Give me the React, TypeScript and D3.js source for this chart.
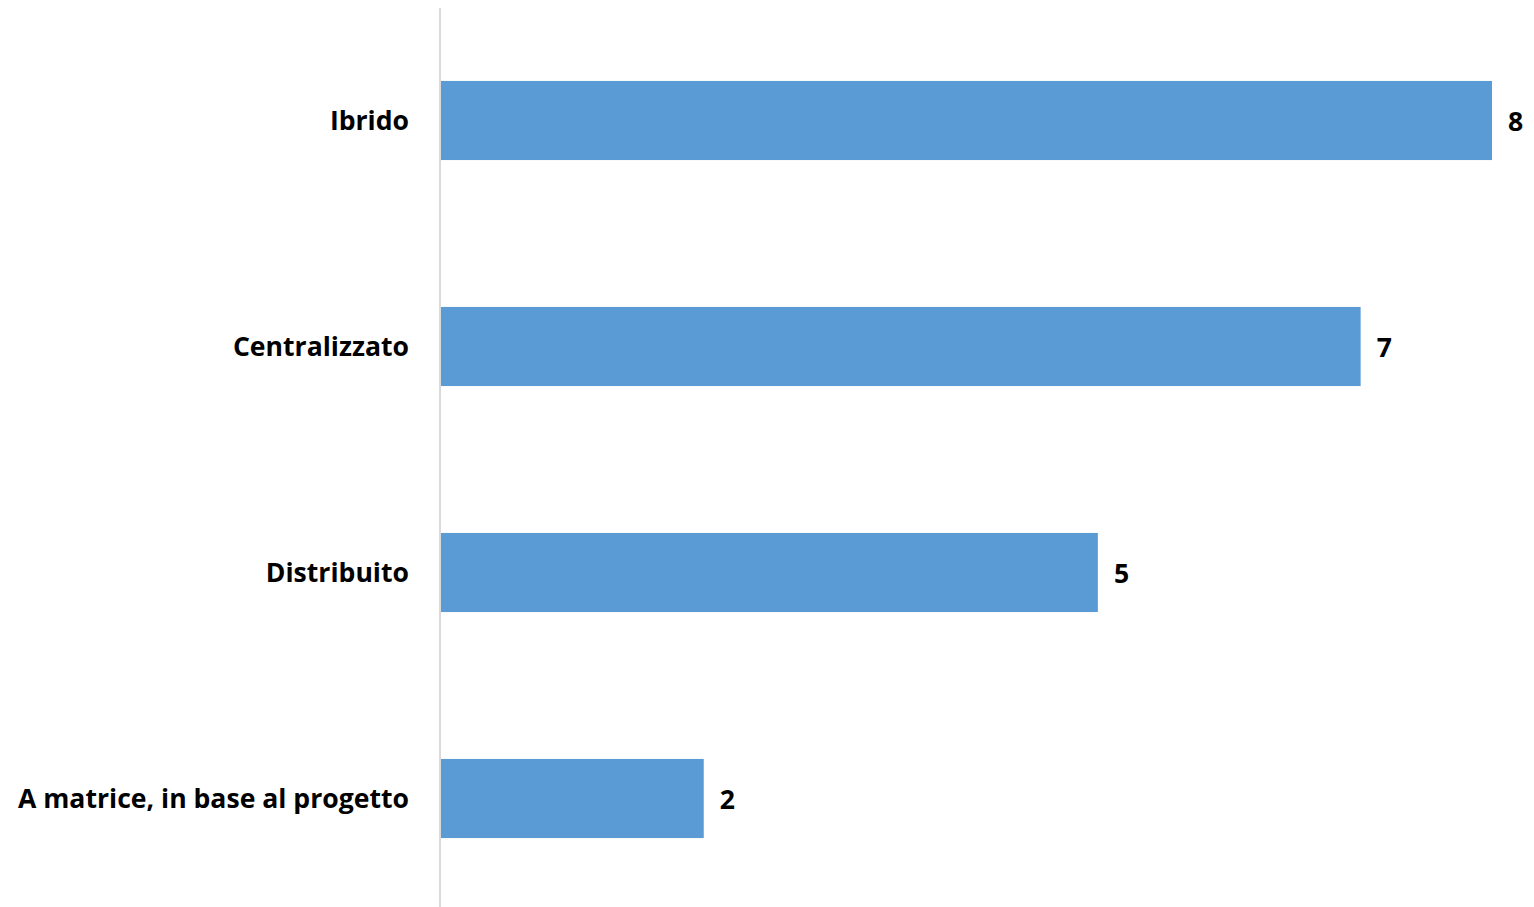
import React from "react";
import * as d3 from "d3";

const categories = ["Ibrido", "Centralizzato", "Distribuito", "A matrice, in base al progetto"];
const values = [8, 7, 5, 2];

const W = 1534;
const H = 907;

export default function App() {
  const x = d3.scaleLinear().domain([0, 8]).range([441, 1492]);
  const y = d3
    .scaleBand<string>()
    .domain(categories)
    .range([7.5, 911.5])
    .paddingInner(0.65)
    .paddingOuter(0.325);
  const font = "'Open Sans', 'DejaVu Sans', sans-serif";
  return (
    <svg
      width={W}
      height={H}
      style={{ position: "absolute", left: 0, top: 0, background: "#fff" }}
    >
      <line x1={440} x2={440} y1={8} y2={H} stroke="#d9d9d9" strokeWidth={2} />
      {categories.map((c, i) => {
        const yy = y(c)!;
        const bw = y.bandwidth();
        return (
          <g key={c}>
            <rect x={x(0)} y={yy} width={x(values[i]) - x(0)} height={bw} fill="#5b9bd5" />
            <text
              x={409}
              y={yy + bw / 2 - 1}
              textAnchor="end"
              dominantBaseline="central"
              fontFamily={font}
              fontWeight={700}
              fontSize={26.6}
              fill="#000"
            >
              {c}
            </text>
            <text
              x={x(values[i]) + 16}
              y={yy + bw / 2}
              dominantBaseline="central"
              fontFamily={font}
              fontWeight={700}
              fontSize={26.6}
              fill="#000"
            >
              {values[i]}
            </text>
          </g>
        );
      })}
    </svg>
  );
}
